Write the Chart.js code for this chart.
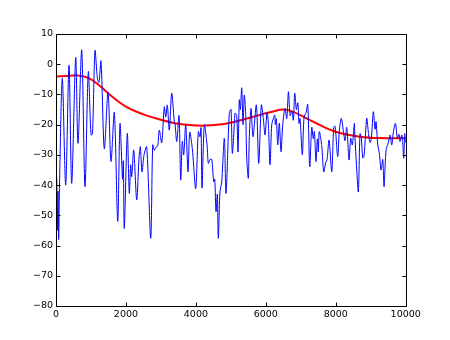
<!DOCTYPE html>
<html>
<head>
<meta charset="utf-8">
<script src="https://cdn.jsdelivr.net/npm/chart.js@4/dist/chart.umd.min.js"></script>
<style>
html,body{margin:0;padding:0;background:#fff;}
#c{display:block;}
</style>
</head>
<body>
<canvas id="c" width="450" height="340"></canvas>
<script>
const blueX = [0,20,37,57,77,100,180,277,372,449,563,629,735,829,924,1001,1044,1115,1187,1230,1287,1381,1487,1573,1667,1765,1830,1902,1925,1953,2039,2096,2136,2165,2222,2308,2374,2411,2460,2517,2594,2708,2766,2811,2851,2909,2954,3023,3097,3137,3183,3240,3309,3383,3403,3452,3518,3566,3612,3652,3709,3775,3824,3898,3995,4070,4118,4147,4176,4241,4319,4356,4404,4453,4510,4539,4576,4613,4642,4690,4739,4813,4862,4956,5005,5042,5099,5119,5168,5205,5242,5271,5311,5348,5385,5425,5454,5500,5528,5577,5634,5729,5797,5872,5929,5977,6035,6072,6120,6169,6215,6255,6272,6301,6341,6386,6435,6484,6549,6598,6647,6695,6744,6787,6827,6875,6915,6950,6979,7044,7093,7150,7199,7256,7313,7359,7388,7436,7473,7502,7530,7599,7656,7713,7751,7808,7885,7942,7980,8056,8102,8159,8217,8265,8314,8380,8428,8474,8531,8543,8600,8646,8694,8732,8771,8808,8886,8932,8980,9018,9075,9124,9152,9201,9247,9295,9344,9381,9438,9504,9552,9601,9649,9706,9764,9810,9838,9887,9916,9944,9973,10000];
const blueY = [-45,-38,-55,-42,-58,-40,-4.7,-40,-0.3,-39.4,2.2,-26.2,4.7,-40.5,-2.5,-23.4,-23,4.5,-5,-6,1,-28,-9.3,-32.2,-16,-52,-19.6,-38,-32,-54.3,-22.9,-42.7,-33.3,-37.2,-28.4,-44.9,-31,-27.3,-35.6,-30,-27.3,-57.6,-26.7,-28.5,-27.5,-27,-21.8,-26,-14.1,-17.5,-13.5,-21.8,-9.6,-19,-19.6,-25.6,-17,-38.3,-25.5,-30,-20.1,-35.6,-22.5,-28,-41.1,-22.3,-24,-21,-41,-20.1,-26.7,-32.8,-31.5,-31.5,-38.9,-38,-48.8,-43,-57.6,-42,-39,-24.5,-42.7,-16.2,-15,-29.5,-20,-16.2,-17,-29,-11.8,-15,-7.8,-20,-10.2,-16.9,-31.1,-37.7,-24,-14.6,-24,-13.5,-32.8,-13.5,-18,-23.4,-16,-19.5,-33.3,-20,-18,-16.8,-20,-18,-26.7,-19.5,-29,-20,-14.6,-18,-9.1,-17,-15.5,-18.5,-9.6,-15,-12.8,-19.6,-18,-30,-17.5,-16,-13.3,-33.9,-20.9,-24.7,-22.3,-32.2,-24.7,-29,-22.3,-27,-35.6,-32.5,-31.5,-25.1,-35.6,-20.9,-20.5,-30.6,-22,-17.9,-22,-25.3,-20.9,-31.7,-24.5,-26.7,-19.6,-22.5,-35,-42.2,-23,-24.5,-31,-30.5,-17.9,-22.5,-25.9,-24.5,-15.7,-21.5,-19,-26.7,-29.5,-35,-31.5,-40.5,-28.5,-25.9,-23.4,-26.7,-22.3,-19.6,-24.5,-23.2,-25.6,-23.4,-26,-31.1,-23,-26];
const redX = [0,300,600,924,1258,1593,2022,2497,2974,3400,3832,4261,4882,5548,6120,6598,7264,7931,8694,9458,10000];
const redY = [-4.1,-3.9,-3.7,-4.5,-7.2,-10.6,-14.2,-16.6,-18.3,-19.5,-20.1,-20.3,-19.6,-17.7,-15.9,-15.1,-18.5,-22.1,-24,-24.5,-24.5];
const xTicks = [0,2000,4000,6000,8000,10000];
const yTicks = [10,0,-10,-20,-30,-40,-50,-60,-70,-80];

const toPts = (xs, ys) => xs.map((x, i) => ({x: x, y: ys[i]}));
const fmt = v => String(v).replace('-', '\u2212');

const frame = {
  id: 'frame',
  afterDatasetsDraw(chart) {
    const ctx = chart.ctx, a = chart.chartArea;
    const xs = chart.scales.x, ys = chart.scales.y;
    ctx.save();
    ctx.strokeStyle = '#000';
    ctx.lineWidth = 1;
    ctx.beginPath();
    const L = Math.round(a.left) + 0.5, R = Math.round(a.right) + 0.5;
    const T = Math.round(a.top) + 0.5, B = Math.round(a.bottom) + 0.5;
    ctx.rect(L, T, R - L, B - T);
    xTicks.forEach(v => {
      const p = Math.round(xs.getPixelForValue(v)) + 0.5;
      ctx.moveTo(p, B); ctx.lineTo(p, B - 4);
      ctx.moveTo(p, T); ctx.lineTo(p, T + 4);
    });
    yTicks.forEach(v => {
      const p = Math.round(ys.getPixelForValue(v)) + 0.5;
      ctx.moveTo(L, p); ctx.lineTo(L + 4, p);
      ctx.moveTo(R, p); ctx.lineTo(R - 4, p);
    });
    ctx.stroke();
    ctx.restore();
  }
};

new Chart(document.getElementById('c'), {
  type: 'line',
  data: {
    datasets: [
      {data: toPts(blueX, blueY), borderColor: '#0000ff', borderWidth: 1, pointRadius: 0, tension: 0.3, fill: false},
      {data: toPts(redX, redY), borderColor: '#ff0000', borderWidth: 2, pointRadius: 0, tension: 0.4, fill: false}
    ]
  },
  options: {
    responsive: false,
    animation: false,
    devicePixelRatio: 1,
    layout: {padding: {left: 0, top: 34, right: 44.3, bottom: 0}},
    plugins: {legend: {display: false}, tooltip: {enabled: false}},
    scales: {
      x: {
        type: 'linear', min: 0, max: 10000,
        afterFit(s) { s.height = 34; },
        afterBuildTicks(s) { s.ticks = xTicks.map(v => ({value: v})); },
        grid: {display: false, drawTicks: false},
        border: {display: false},
        ticks: {padding: 3, color: '#000', font: {family: 'DejaVu Sans', size: 9.5}, maxRotation: 0, callback: fmt}
      },
      y: {
        type: 'linear', min: -80, max: 10,
        afterFit(s) { s.width = 56; },
        afterBuildTicks(s) { s.ticks = yTicks.map(v => ({value: v})); },
        grid: {display: false, drawTicks: false},
        border: {display: false},
        ticks: {padding: 3, color: '#000', font: {family: 'DejaVu Sans', size: 9.5}, callback: fmt}
      }
    }
  },
  plugins: [frame]
});
</script>
</body>
</html>
